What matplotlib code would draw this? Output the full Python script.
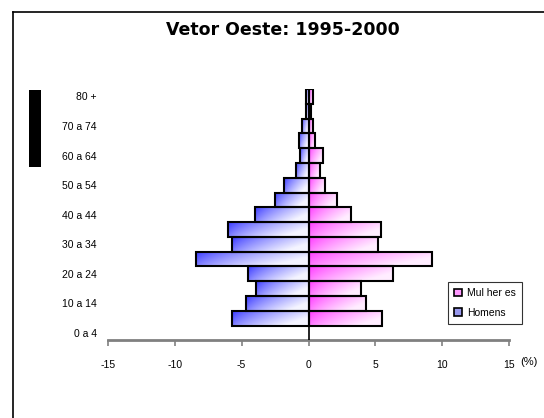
import numpy as np
import matplotlib
matplotlib.use('Agg')
import matplotlib.pyplot as plt
from matplotlib.patches import Rectangle, Patch
from matplotlib.lines import Line2D

plt.rcParams['font.family'] = ['Liberation Sans', 'DejaVu Sans']

## age groups shown on the vertical axis (bottom to top)
age_labels = ['0 a 4', '5 a 9', '10 a 14', '15 a 19', '20 a 24', '25 a 29', '30 a 34',
              '35 a 39', '40 a 44', '45 a 49', '50 a 54', '55 a 59', '60 a 64',
              '65 a 69', '70 a 74', '75 a 79', '80 +']
# bars drawn in the picture sit on slots 1..16 (no bar on the lowest slot)
bar_groups = age_labels[1:]
homens = [5.75, 4.7, 3.9, 4.55, 8.4, 5.75, 6.0, 4.0, 2.5, 1.8, 0.9, 0.65, 0.7, 0.5, 0.15, 0.2]
mulheres = [5.5, 4.3, 3.95, 6.3, 9.25, 5.2, 5.45, 3.2, 2.1, 1.25, 0.85, 1.1, 0.5, 0.3, 0.2, 0.3]
xticks = [-15, -10, -5, 0, 5, 10, 15]

W, H = 544, 418
fig = plt.figure(figsize=(W/100, H/100), dpi=100)
ax = fig.add_axes([107.7/W, 1-340.4/H, 401.6/W, 251.3/H])


def gradient(dark, light, n=60):
  # diagonal gradient: dark at top-left, light at bottom-right
  xs = np.linspace(0, 1, n)
  ys = np.linspace(0, 1, 12)
  xx, yy = np.meshgrid(xs, ys)
  t = np.clip(xx**0.7*0.85 + yy*0.35, 0, 1)
  img = np.zeros((len(ys), n, 3))
  for c in range(3):
    img[:, :, c] = dark[c]*(1-t) + light[c]*t
  return img


blue_dark, blue_light = (0.22, 0.22, 1.0), (0.96, 0.96, 1.0)
pink_dark, pink_light = (1.0, 0.22, 1.0), (1.0, 0.93, 1.0)

pos = np.arange(1, len(bar_groups)+1)
for y, m, f in zip(pos, homens, mulheres):
  # men to the left
  ax.imshow(gradient(blue_dark, blue_light), extent=[-m, 0, y-0.5, y+0.5],
            aspect='auto', interpolation='bilinear', zorder=1)
  ax.add_patch(Rectangle((-m, y-0.5), m, 1, facecolor='none', edgecolor='black', lw=1.5, zorder=2))
  # women to the right
  ax.imshow(gradient(pink_dark, pink_light), extent=[0, f, y-0.5, y+0.5],
            aspect='auto', interpolation='bilinear', zorder=1)
  ax.add_patch(Rectangle((0, y-0.5), f, 1, facecolor='none', edgecolor='black', lw=1.5, zorder=2))

ax.axvline(0, color='black', lw=1.2, zorder=3)

ax.set_xlim(-15, 15)
ax.set_ylim(-0.5, len(age_labels)-0.5)
ax.set_xticks(xticks)
ax.set_xticklabels([str(v) for v in xticks], fontsize=7.5)
ax.set_yticks(range(0, len(age_labels), 2))
ax.set_yticklabels(age_labels[::2], fontsize=7.5)
ax.tick_params(axis='y', length=0, pad=8)
ax.tick_params(axis='x', length=4, width=1.2, color='#808080', pad=10)
for s in ['top', 'right', 'left']:
  ax.spines[s].set_visible(False)
ax.spines['bottom'].set_color('#808080')
ax.spines['bottom'].set_linewidth(2)

fig.text(529/W, 1-362/H, '(%)', fontsize=8, ha='center', va='center')
fig.text(283/W, 1-30/H, 'Vetor Oeste: 1995-2000', fontsize=12.5, fontweight='bold',
         ha='center', va='center', family='DejaVu Sans')

handles = [Patch(facecolor='#ff99ff', edgecolor='black', lw=1.2),
           Patch(facecolor='#9999ee', edgecolor='black', lw=1.2)]
leg = fig.legend(handles, ['Mul her es', 'Homens'], loc='upper left',
                 bbox_to_anchor=(448/W, 1-282/H), fontsize=7.5, frameon=True,
                 fancybox=False, handlelength=0.7, handleheight=0.7, handletextpad=0.5,
                 borderpad=0.6, labelspacing=0.9, borderaxespad=0)
leg.get_frame().set_edgecolor('black')
leg.get_frame().set_linewidth(0.8)

# outer chart frame and the dark block at the left
fig.add_artist(Line2D([12.7/W, 1], [1-11.7/H, 1-11.7/H], color='black', lw=1.2))
fig.add_artist(Line2D([12.7/W, 12.7/W], [1-11.7/H, 0], color='black', lw=1.2))
fig.add_artist(Rectangle((29/W, 1-167/H), 12/W, 77/H, facecolor='black', edgecolor='none'))

fig.savefig('out.png', dpi=100)
